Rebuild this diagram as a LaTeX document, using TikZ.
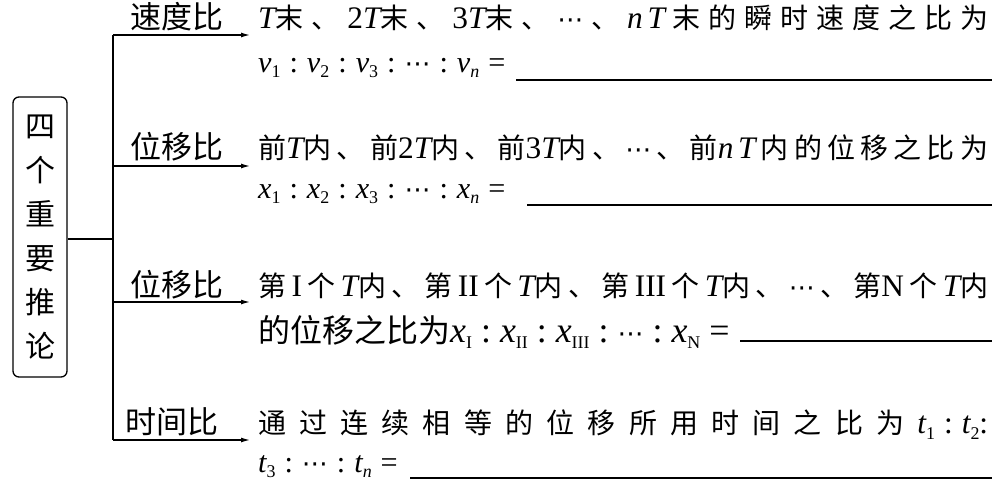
\documentclass[tikz,border=0pt]{standalone}
\usepackage{fontspec}
\usetikzlibrary{arrows.meta}
\setmainfont{Noto Sans CJK SC}
\newfontfamily\tms[Scale=1.12]{Liberation Serif}
\newfontfamily\dv{DejaVu Sans}
\newcommand\li[1]{{\tms\itshape #1}}
\newcommand\lu[1]{{\tms #1}}
\newcommand\sbs[2]{\li{#1}\raisebox{-0.4ex}{\fontsize{16}{16}\selectfont #2}}
\newcommand\cdts{{\dv\fontsize{26}{26}\selectfont ⋯}}
\newcommand\col{\hspace{9pt}{\tms :}\hspace{9pt}}
\begin{document}
\begin{tikzpicture}[x=1pt,y=-1pt,
  lbl/.style={anchor=base west,inner sep=0pt,font=\fontsize{31}{31}\selectfont},
  txt/.style={anchor=base west,inner sep=0pt,font=\fontsize{28}{28}\selectfont},
  txs/.style={anchor=base west,inner sep=0pt,font=\fontsize{27}{27}\selectfont},
  ln/.style={line width=1.3pt},
  arr/.style={ln,-{Latex[length=9pt,width=5pt]}}]
\useasboundingbox (0,0) rectangle (992,482);
% main box
\node[draw,ln,rounded corners=6pt,minimum width=54pt,minimum height=280pt,inner sep=0pt,
  align=center,font=\fontsize{30}{44}\selectfont] (main) at (40,237)
  {四\\个\\重\\要\\推\\论};
% trunk
\coordinate (tt) at (113,35);
\coordinate (tm) at (113,239);
\coordinate (tb) at (113,440);
\coordinate (t2) at (113,166);
\coordinate (t3) at (113,302);
\coordinate (e1) at (250,35);
\coordinate (e2) at (250,166);
\coordinate (e3) at (250,302);
\coordinate (e4) at (250,440);
\draw[ln] (main.east |- tm) -- (tm);
\draw[ln] (tt) -- (tb);
\draw[arr] (tt) -- (e1);
\draw[arr] (t2) -- (e2);
\draw[arr] (t3) -- (e3);
\draw[arr] (tb) -- (e4);
% labels
\node[lbl] (l1) at (130,28) {速度比};
\node[lbl] (l2) at (130,158) {位移比};
\node[lbl] (l3) at (130,296) {位移比};
\node[lbl] (l4) at (125,433) {时间比};
% row 1
\node[txt] (a1) at (258,28) {\makebox[730pt][s]{\li{T}末 、 \lu{2}\li{T}末 、 \lu{3}\li{T}末 、 \cdts{} 、 \li{n}\,\li{T} 末 的 瞬 时 速 度 之 比 为}};
\node[txs] (b1) at (258,72) {\sbs{v}{\tms 1}\col\sbs{v}{\tms 2}\col\sbs{v}{\tms 3}\col\cdts\col\sbs{v}{\tms\itshape n}\hspace{9pt}{\tms =}};
\draw[ln] (516,80) -- (992,80);
% row 2
\node[txt] (a2) at (258,158) {\makebox[730pt][s]{前\li{T}内 、 前\lu{2}\li{T}内 、 前\lu{3}\li{T}内 、 \cdts{} 、 前\li{n}\,\li{T} 内 的 位 移 之 比 为}};
\node[txs] (b2) at (258,198) {\sbs{x}{\tms 1}\col\sbs{x}{\tms 2}\col\sbs{x}{\tms 3}\col\cdts\col\sbs{x}{\tms\itshape n}\hspace{9pt}{\tms =}};
\draw[ln] (527,205) -- (992,205);
% row 3
\node[txt] (a3) at (258,296) {\makebox[730pt][s]{第 \lu{I} 个 \li{T}内 、 第 \lu{II} 个 \li{T}内 、 第 \lu{III} 个 \li{T}内 、 \cdts{} 、 第\lu{N} 个 \li{T}内}};
\node[txt,font=\fontsize{32}{32}\selectfont] (b3) at (258,342) {的位移之比为\sbs{x}{\tms I}\col\sbs{x}{\tms II}\col\sbs{x}{\tms III}\col\cdts\col\sbs{x}{\tms N}\hspace{9pt}{\tms =}};
\draw[ln] (740,341) -- (992,341);
% row 4
\node[txt] (a4) at (258,433) {\makebox[730pt][s]{通 过 连 续 相 等 的 位 移 所 用 时 间 之 比 为 \sbs{t}{\tms 1}\col\sbs{t}{\tms 2}{\tms :}}};
\node[txs] (b4) at (258,472) {\sbs{t}{\tms 3}\col\cdts\col\sbs{t}{\tms\itshape n}\hspace{9pt}{\tms =}};
\draw[ln] (410,478) -- (992,478);
\end{tikzpicture}
\end{document}
